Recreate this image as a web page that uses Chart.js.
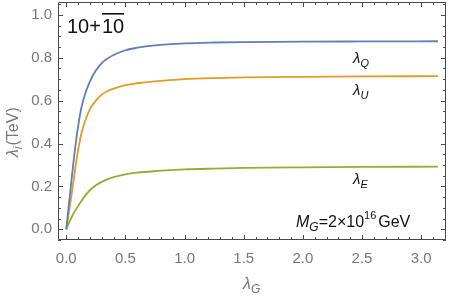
<!DOCTYPE html>
<html>
<head>
<meta charset="utf-8">
<script src="https://cdn.jsdelivr.net/npm/chart.js@4.4.0/dist/chart.umd.min.js"></script>
<style>
  html, body { margin: 0; padding: 0; background: #fff; }
  #wrap { width: 449px; height: 296px; }
</style>
</head>
<body>
<div id="wrap"><canvas id="lamChart"></canvas></div>
<script>
// lambda_G sample points and the three couplings (TeV)
const lambdaG = [0, 0.025, 0.05, 0.075, 0.1, 0.125, 0.15, 0.2, 0.25, 0.3, 0.35, 0.4, 0.5, 0.6, 0.75, 1.0, 1.25, 1.5, 2.0, 2.5, 3.1416];
const lambdaQ = [0, 0.13, 0.26, 0.38, 0.48, 0.56, 0.615, 0.69, 0.74, 0.775, 0.797, 0.813, 0.835, 0.847, 0.858, 0.867, 0.871, 0.873, 0.875, 0.876, 0.877];
const lambdaU = [0, 0.09, 0.18, 0.28, 0.37, 0.44, 0.49, 0.56, 0.60, 0.628, 0.645, 0.656, 0.672, 0.681, 0.690, 0.700, 0.705, 0.708, 0.711, 0.713, 0.714];
const lambdaE = [0, 0.033, 0.062, 0.087, 0.108, 0.13, 0.15, 0.182, 0.205, 0.221, 0.234, 0.243, 0.256, 0.264, 0.271, 0.279, 0.283, 0.286, 0.289, 0.291, 0.292];

const xTicks = [0, 0.5, 1.0, 1.5, 2.0, 2.5, 3.0];
const yTicks = [0, 0.2, 0.4, 0.6, 0.8, 1.0];

const pts = ys => lambdaG.map((x, i) => ({x: x, y: ys[i]}));

const frameCol = '#4a4a4a';
const labelCol = '#777';
const FONT = '"Liberation Sans", Arial, sans-serif';

// Mathematica-like frame with inward ticks, plus the text labels
const framePlugin = {
  id: 'mmaFrame',
  afterDraw(chart) {
    const ctx = chart.ctx;
    const a = chart.chartArea;
    const x = chart.scales.x, y = chart.scales.y;
    ctx.save();
    ctx.setLineDash([]);
    ctx.globalAlpha = 1;
    ctx.globalCompositeOperation = 'source-over';
    ctx.strokeStyle = frameCol;
    ctx.lineWidth = 1;
    ctx.beginPath();
    ctx.rect(a.left + 0.5, a.top + 0.5, a.right - a.left - 1, a.bottom - a.top - 1);

    for (let i = 0; i <= 32; i++) {
      const v = i / 10;
      const px = Math.round(x.getPixelForValue(v)) + 0.5;
      const len = (i % 5 === 0) ? 5 : 3;
      ctx.moveTo(px, a.bottom); ctx.lineTo(px, a.bottom - len);
      ctx.moveTo(px, a.top); ctx.lineTo(px, a.top + len);
    }
    for (let i = -1; i <= 21; i++) {
      const v = i * 0.05;
      const py = Math.round(y.getPixelForValue(v)) + 0.5;
      const len = (i % 4 === 0) ? 5 : 3;
      ctx.moveTo(a.left, py); ctx.lineTo(a.left + len, py);
      ctx.moveTo(a.right, py); ctx.lineTo(a.right - len, py);
    }
    ctx.stroke();

    const sub = (base, s, px, py, size, col, italic) => {
      ctx.fillStyle = col;
      ctx.font = (italic ? 'italic ' : '') + size + 'px ' + FONT;
      ctx.fillText(base, px, py);
      const w = ctx.measureText(base).width;
      ctx.font = 'italic ' + Math.round(size * 0.72) + 'px ' + FONT;
      ctx.fillText(s, px + w, py + size * 0.25);
      return w + ctx.measureText(s).width;
    };

    ctx.textBaseline = 'alphabetic';
    ctx.textAlign = 'left';

    // 10 + 10-bar
    ctx.fillStyle = '#111';
    ctx.font = '20px ' + FONT;
    ctx.fillText('10+', 67, 33);
    const w1 = ctx.measureText('10+').width;
    ctx.fillText('10', 68 + w1, 33);
    const w2 = ctx.measureText('10').width;
    ctx.fillRect(68 + w1, 13, w2, 1.6);

    sub('λ', 'Q', 353, 63, 15, '#111', true);
    sub('λ', 'U', 353, 95, 15, '#111', true);
    sub('λ', 'E', 353, 184, 15, '#111', true);

    // M_G = 2x10^16 GeV
    let cx = 296;
    cx += sub('M', 'G', cx, 227, 16, '#111', true);
    ctx.font = '16px ' + FONT;
    ctx.fillText('=2×10', cx, 227);
    cx += ctx.measureText('=2×10').width;
    ctx.font = '11px ' + FONT;
    ctx.fillText('16', cx, 219);
    cx += ctx.measureText('16').width;
    ctx.font = '16px ' + FONT;
    ctx.fillText('GeV', cx + 2, 227);

    // axis titles
    sub('λ', 'G', 243, 289, 16, labelCol, true);
    ctx.translate(18, 157);
    ctx.rotate(-Math.PI / 2);
    const tx = sub('λ', 'i', 0, 0, 16, labelCol, true);
    ctx.font = '16px ' + FONT;
    ctx.fillText('(TeV)', tx + 1, 0);
    ctx.restore();
  }
};

new Chart(document.getElementById('lamChart'), {
  type: 'line',
  data: {
    datasets: [
      {label: 'λQ', data: pts(lambdaQ), borderColor: '#5E81B5', borderWidth: 1.8, pointRadius: 0, cubicInterpolationMode: 'monotone'},
      {label: 'λU', data: pts(lambdaU), borderColor: '#E19C24', borderWidth: 1.8, pointRadius: 0, cubicInterpolationMode: 'monotone'},
      {label: 'λE', data: pts(lambdaE), borderColor: '#8FB032', borderWidth: 1.8, pointRadius: 0, cubicInterpolationMode: 'monotone'}
    ]
  },
  options: {
    responsive: true,
    maintainAspectRatio: false,
    animation: false,
    layout: {padding: {top: 2, right: 3, left: 0, bottom: 0}},
    plugins: {legend: {display: false}, tooltip: {enabled: false}},
    scales: {
      x: {
        type: 'linear', min: -0.07, max: 3.21,
        afterBuildTicks: s => { s.ticks = xTicks.map(v => ({value: v})); },
        afterFit: s => { s.height = 56; s.paddingLeft = 0; s.paddingRight = 0; },
        grid: {display: false, drawTicks: false},
        border: {display: false},
        ticks: {color: labelCol, padding: 10, font: {size: 15, family: FONT},
                callback: v => v.toFixed(1), maxRotation: 0, autoSkip: false}
      },
      y: {
        type: 'linear', min: -0.05, max: 1.06,
        afterBuildTicks: s => { s.ticks = yTicks.map(v => ({value: v})); },
        afterFit: s => { s.width = 58; s.paddingTop = 0; s.paddingBottom = 0; },
        grid: {display: false, drawTicks: false},
        border: {display: false},
        ticks: {color: labelCol, padding: 6, font: {size: 15, family: FONT},
                callback: v => v.toFixed(1), autoSkip: false}
      }
    }
  },
  plugins: [framePlugin]
});
</script>
</body>
</html>
